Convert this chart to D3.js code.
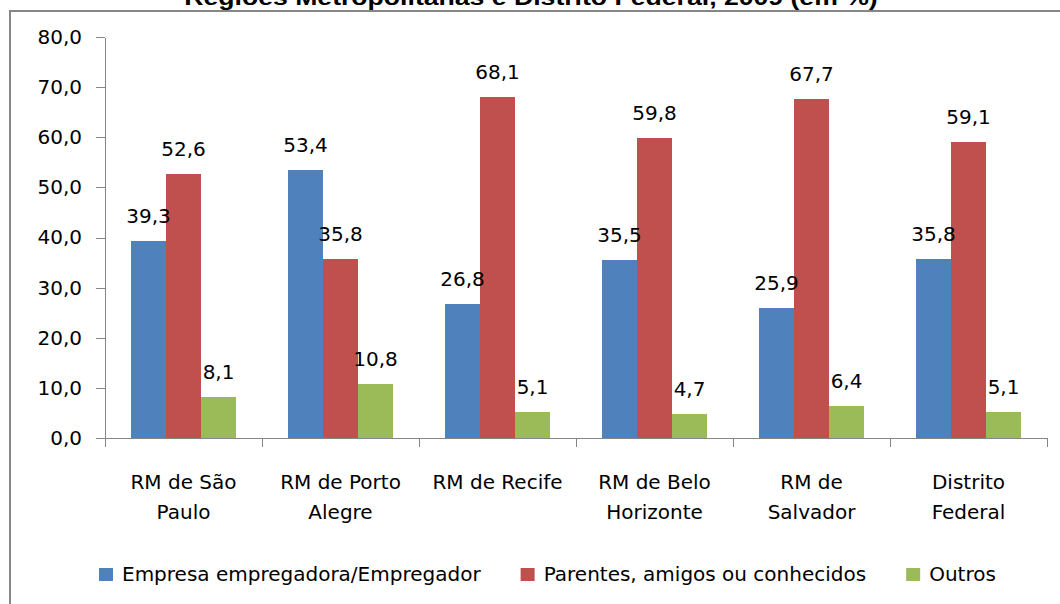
<!DOCTYPE html>
<html>
<head>
<meta charset="utf-8">
<script src="https://cdn.jsdelivr.net/npm/d3@7"></script>
<style>
  body { margin: 0; background: #fff; }
  text { font-family: "DejaVu Sans", sans-serif; fill: #000; }
</style>
</head>
<body>
<div id="wrapper"></div>
<script>
// data (percent)
const categories = [
  ["RM de São", "Paulo"],
  ["RM de Porto", "Alegre"],
  ["RM de Recife"],
  ["RM de Belo", "Horizonte"],
  ["RM de", "Salvador"],
  ["Distrito", "Federal"],
]
const seriesNames = ["Empresa empregadora/Empregador", "Parentes, amigos ou conhecidos", "Outros"]
const empregador = [39.3, 53.4, 26.8, 35.5, 25.9, 35.8]
const parentes = [52.6, 35.8, 68.1, 59.8, 67.7, 59.1]
const outros = [8.1, 10.8, 5.1, 4.7, 6.4, 5.1]
const yTicks = [0, 10, 20, 30, 40, 50, 60, 70, 80]
const title = "Regiões Metropolitanas e Distrito Federal, 2009 (em %)"

async function drawChart() {
  const colors = ["#4f81bd", "#c0504d", "#9bbb59"]
  const allSeries = [empregador, parentes, outros]

  const ptBR = d3.formatLocale({ decimal: ",", thousands: ".", grouping: [3], currency: ["R$", ""] })
  const fmt = ptBR.format(".1f")

  let dimensions = {
    width: 1060,
    height: 604,
    margin: { top: 37, right: 13, bottom: 166, left: 105 },
  }
  dimensions.boundedWidth = dimensions.width
    - dimensions.margin.left
    - dimensions.margin.right
  dimensions.boundedHeight = dimensions.height
    - dimensions.margin.top
    - dimensions.margin.bottom

  const svg = d3.select("#wrapper")
    .append("svg")
      .attr("width", dimensions.width)
      .attr("height", dimensions.height)

  // outer chart frame (right/bottom edges run off the picture)
  svg.append("rect")
    .attr("x", 10).attr("y", 11)
    .attr("width", 1200).attr("height", 800)
    .attr("fill", "none")
    .attr("stroke", "#868686")
    .attr("stroke-width", 2)

  // title, mostly cut off at the top like in the source image (stretched wide)
  svg.append("text")
    .attr("text-anchor", "middle")
    .attr("transform", "translate(531,5) scale(1.21,1)")
    .style("font-family", "'Liberation Sans', Arial, sans-serif")
    .style("font-weight", "bold")
    .style("font-size", "22px")
    .text(title)

  const bounds = svg.append("g")
    .style("transform", `translate(${dimensions.margin.left}px, ${dimensions.margin.top}px)`)

  const yScale = d3.scaleLinear()
    .domain([0, 80])
    .range([dimensions.boundedHeight, 0])

  const x0 = d3.scaleBand()
    .domain(d3.range(categories.length))
    .range([0, dimensions.boundedWidth])
    .paddingInner(0)

  const x1 = d3.scaleBand()
    .domain(d3.range(allSeries.length))
    .range([0, x0.bandwidth()])
    .paddingInner(0)
    .paddingOuter(0.74)

  // bars
  const groups = bounds.selectAll(".group")
    .data(categories)
    .enter().append("g")
      .attr("class", "group")
      .attr("transform", (d, i) => `translate(${x0(i)},0)`)

  groups.each(function(d, i) {
    const g = d3.select(this)
    const vals = allSeries.map((s, k) => ({ k, v: s[i] }))
    g.selectAll("rect")
      .data(vals)
      .enter().append("rect")
        .attr("x", e => x1(e.k))
        .attr("y", e => yScale(e.v))
        .attr("width", x1.bandwidth())
        .attr("height", e => dimensions.boundedHeight - yScale(e.v))
        .attr("fill", e => colors[e.k])
        .attr("shape-rendering", "crispEdges")
    g.selectAll(".lbl")
      .data(vals)
      .enter().append("text")
        .attr("class", "lbl")
        .attr("x", e => x1(e.k) + x1.bandwidth() / 2)
        .attr("y", e => yScale(e.v) - 18)
        .attr("text-anchor", "middle")
        .style("font-size", "20px")
        .text(e => fmt(e.v))
  })

  // y axis
  const yAxis = d3.axisLeft(yScale)
    .tickValues(yTicks)
    .tickFormat(fmt)
    .tickSize(9)
    .tickSizeOuter(0)
    .tickPadding(14)
  const yAxisG = bounds.append("g").call(yAxis)
  yAxisG.selectAll("text").style("font-size", "20px").attr("font-family", null)
  yAxisG.selectAll("path, line").attr("stroke", "#868686").attr("shape-rendering", "crispEdges")

  // x axis: ticks on category boundaries
  const xEdge = d3.scaleLinear()
    .domain([0, categories.length])
    .range([0, dimensions.boundedWidth])
  const xAxis = d3.axisBottom(xEdge)
    .tickValues(d3.range(categories.length + 1))
    .tickFormat("")
    .tickSize(9)
    .tickSizeOuter(0)
  const xAxisG = bounds.append("g")
    .attr("transform", `translate(0,${dimensions.boundedHeight})`)
    .call(xAxis)
  xAxisG.selectAll("path, line").attr("stroke", "#868686").attr("shape-rendering", "crispEdges")

  // category labels
  const catLabels = bounds.selectAll(".cat")
    .data(categories)
    .enter().append("text")
      .attr("class", "cat")
      .attr("text-anchor", "middle")
      .attr("transform", (d, i) => `translate(${x0(i) + x0.bandwidth() / 2},${dimensions.boundedHeight + 51})`)
      .style("font-size", "20px")
  catLabels.selectAll("tspan")
    .data(d => d)
    .enter().append("tspan")
      .attr("x", 0)
      .attr("dy", (d, i) => i ? 30 : 0)
      .text(d => d)

  // legend
  const legend = svg.append("g")
    .attr("transform", "translate(99,568)")
  let lx = 0
  seriesNames.forEach((name, i) => {
    const item = legend.append("g").attr("transform", `translate(${lx},0)`)
    item.append("rect")
      .attr("width", 14).attr("height", 13)
      .attr("fill", colors[i])
    const t = item.append("text")
      .attr("x", 23)
      .attr("y", 13)
      .style("font-size", "20px")
      .text(name)
    lx += 23 + t.node().getComputedTextLength() + 40
  })
}
drawChart()
</script>
</body>
</html>
